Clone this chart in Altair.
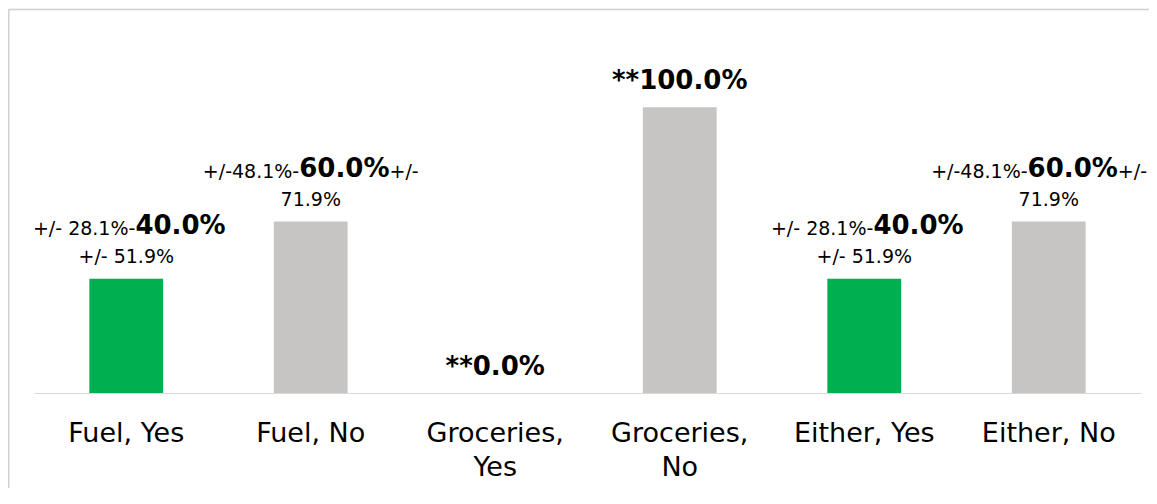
import altair as alt
import pandas as pd

# ---- data ----
categories = ["Fuel, Yes", "Fuel, No", "Groceries, Yes", "Groceries, No", "Either, Yes", "Either, No"]
values = [40, 60, 0, 100, 40, 60]
answers = ["Yes", "No", "Yes", "No", "Yes", "No"]
label_pre = ["+/- 28.1%- ", "+/-48.1%-", "", "", "+/- 28.1%- ", "+/-48.1%-"]
label_main = ["40.0%", "60.0%", "**0.0%", "**100.0%", "40.0%", "60.0%"]
label_post = ["", "+/-", "", "", "", "+/-"]
label_line2 = ["+/- 51.9%", "71.9%", "", "", "+/- 51.9%", "71.9%"]
tick_labels = [["Fuel, Yes"], ["Fuel, No"], ["Groceries,", "Yes"], ["Groceries,", "No"],
               ["Either, Yes"], ["Either, No"]]

FONT = "DejaVu Sans"
SMALL = 19
BIG = 26

PLOT_W, PLOT_H = 1107, 343
PAD_L, PAD_R, PAD_T, PAD_B = 26, 8, 42, 95
N = len(categories)
STEP = PLOT_W / N  # band step (paddingOuter = paddingInner / 2)

# approximate DejaVu advance widths (em) to centre mixed-font label lines
REG_W = {"+": 0.838, "/": 0.337, "-": 0.361, " ": 0.318, "\u00a0": 0.318, ".": 0.318, "%": 0.950, "*": 0.5}
BOLD_W = {"+": 0.838, "/": 0.365, "-": 0.415, " ": 0.348, ".": 0.380, "%": 1.002, "*": 0.523}


def text_width(s, size, bold=False):
    table = BOLD_W if bold else REG_W
    digit = 0.696 if bold else 0.636
    return sum(table.get(ch, digit) for ch in s) * size


df = pd.DataFrame({
    "category": categories, "value": values, "answer": answers,
    "pre": [s.replace(" ", "\u00a0") for s in label_pre],
    "main": label_main, "post": label_post, "line2": label_line2,
})

# axis label expression with line breaks
expr = "datum.label"
for cat, lines in reversed(list(zip(categories, tick_labels))):
    arr = "[" + ", ".join("'" + l + "'" for l in lines) + "]"
    expr = f"datum.label == '{cat}' ? {arr} : ({expr})"

x_enc = alt.X(
    "category:N", sort=categories, title=None,
    scale=alt.Scale(paddingInner=0.6, paddingOuter=0.3),
    axis=alt.Axis(labelExpr=expr, labelAngle=0, labelFont=FONT, labelFontSize=27,
                  labelColor="#000000", labelLineHeight=34, labelBaseline="alphabetic",
                  labelPadding=48, ticks=False, tickSize=0, domainColor="#d9d9d9",
                  domainWidth=1, labelOverlap=False, labelFlush=False),
)
y_enc = alt.Y("value:Q", scale=alt.Scale(domain=[0, 120]), axis=None)

base = alt.Chart(df)

bars = base.mark_bar().encode(
    x=x_enc, y=y_enc,
    color=alt.Color("answer:N", scale=alt.Scale(domain=["Yes", "No"], range=["#00B050", "#C6C5C3"]),
                    legend=None),
)

texts = []
for i, cat in enumerate(categories):
    wp = text_width(label_pre[i], SMALL)
    wm = text_width(label_main[i], BIG, bold=True)
    ws = text_width(label_post[i], SMALL)
    total = wp + wm + ws
    start = -total / 2
    # keep the line inside the drawing (room right of this band centre)
    room_right = (N - 1 - i) * STEP + STEP / 2 + PAD_R - 2
    if start + total > room_right:
        start = room_right - total
    main_dy = -45 if label_line2[i] else -18
    sub = base.transform_filter(alt.datum.category == cat)
    if label_pre[i]:
        texts.append(sub.mark_text(align="right", baseline="alphabetic", font=FONT, fontSize=SMALL,
                                   color="#000000", dx=start + wp, dy=main_dy + 1)
                     .encode(x=x_enc, y=y_enc, text="pre:N"))
    texts.append(sub.mark_text(align="left", baseline="alphabetic", font=FONT, fontSize=BIG,
                               fontWeight="bold", color="#000000", dx=start + wp, dy=main_dy)
                 .encode(x=x_enc, y=y_enc, text="main:N"))
    if label_post[i]:
        texts.append(sub.mark_text(align="left", baseline="alphabetic", font=FONT, fontSize=SMALL,
                                   color="#000000", dx=start + wp + wm, dy=main_dy + 1)
                     .encode(x=x_enc, y=y_enc, text="post:N"))
    if label_line2[i]:
        texts.append(sub.mark_text(align="center", baseline="alphabetic", font=FONT, fontSize=SMALL,
                                   color="#000000", dy=-16)
                     .encode(x=x_enc, y=y_enc, text="line2:N"))

# chart frame: only its top and left edges fall inside the picture
frame_src = alt.Chart(pd.DataFrame({"k": [0]}))
frame_top = frame_src.mark_rule(color="#d0d0d0", strokeWidth=1.5).encode(
    x=alt.value(-25.3), x2=alt.value(PLOT_W + PAD_R), y=alt.value(-40.5))
frame_left = frame_src.mark_rule(color="#d0d0d0", strokeWidth=1.5).encode(
    x=alt.value(-25.3), y=alt.value(-40.5), y2=alt.value(PLOT_H + PAD_B))

chart = alt.layer(frame_top, frame_left, bars, *texts).properties(
    width=PLOT_W, height=PLOT_H,
    padding={"left": PAD_L, "top": PAD_T, "right": PAD_R, "bottom": PAD_B},
    autosize=alt.AutoSizeParams(type="none"),
).configure_view(strokeWidth=0)

chart.save("out.html", embed_options={"renderer": "svg", "actions": False})
